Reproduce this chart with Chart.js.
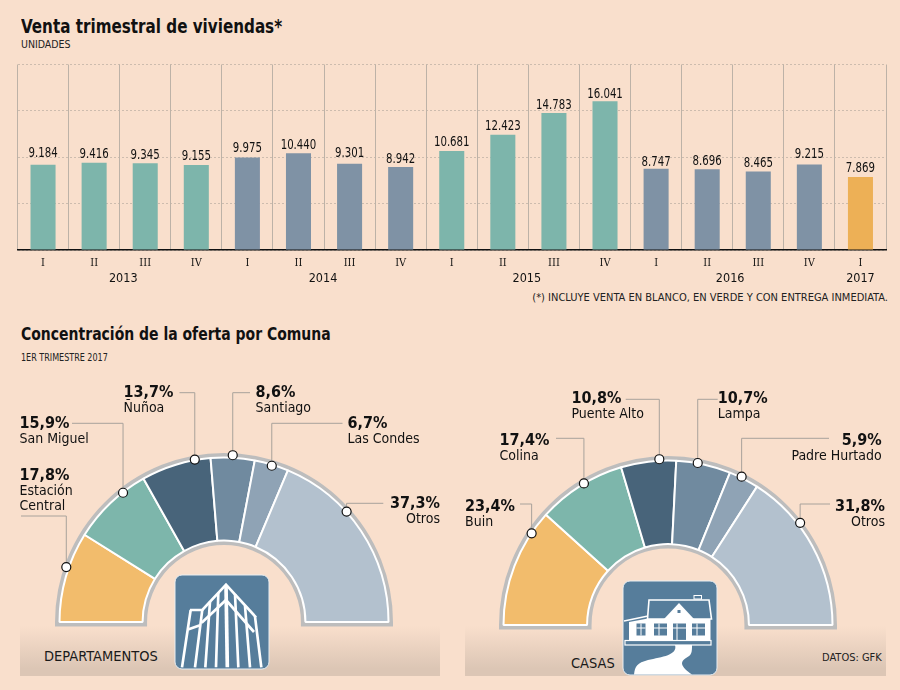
<!DOCTYPE html>
<html lang="es">
<head>
<meta charset="utf-8">
<title>Venta trimestral de viviendas</title>
<script src="https://cdn.jsdelivr.net/npm/chart.js@4"></script>
<style>
  html, body { margin: 0; padding: 0; background: #f9dfcc; }
  #page { position: relative; width: 900px; height: 690px; overflow: hidden; background: #f9dfcc; color: #111;
          font-family: 'DejaVu Sans Condensed', 'DejaVu Sans', sans-serif; }
  #page > * { position: absolute; }
  .title { font-weight: bold; line-height: 24px; white-space: nowrap; transform: scaleX(0.888); transform-origin: left center; }
  .small { font-size: 10.5px; line-height: 13px; white-space: nowrap; color: #222; }
  .band { height: 50px; background: linear-gradient(to bottom, rgba(217,196,180,0), #dcc6b5 85%); }
  .bandtext { font-size: 14.5px; line-height: 18px; white-space: nowrap; color: #1a1a1a; }
</style>
</head>
<body>
<div id="page">
  <div class="title" style="left:21px;top:14px;font-size:19px">Venta trimestral de viviendas*</div>
  <div class="small" style="left:21px;top:38px">UNIDADES</div>
  <div class="small" style="right:12px;top:291px;font-size:11px">(*) INCLUYE VENTA EN BLANCO, EN VERDE Y CON ENTREGA INMEDIATA.</div>
  <div class="title" style="left:21px;top:322px;font-size:17.5px">Concentración de la oferta por Comuna</div>
  <div class="small" style="left:21px;top:351px;transform:scaleX(0.85);transform-origin:left center">1ER TRIMESTRE 2017</div>

  <div class="band" style="left:20px;top:626px;width:420px"></div>
  <div class="band" style="left:465px;top:626px;width:421px"></div>
  <div class="bandtext" style="left:44px;top:647px">DEPARTAMENTOS</div>
  <div class="bandtext" style="left:571px;top:654px">CASAS</div>
  <div class="small" style="left:822px;top:651px;font-size:11px">DATOS: GFK</div>

  <svg style="left:170px;top:570px" width="105" height="105" viewBox="0 0 315 315">
    <rect x="15" y="15" width="282" height="282" rx="21" fill="#567d9b" stroke="#e8eef2" stroke-width="3"/>
    <g fill="none" stroke="#fff" stroke-width="8" stroke-linejoin="miter">
      <path d="M62 120L36 292M97 118L75 292M120 95L106 292M145 68L138 292M195 72L205 292M225 108L240 292M255 140L274 292"/>
      <path stroke-width="11" d="M168 45L172 292"/>
      <path d="M60 120H97L168 44L258 142"/>
      <path d="M95 158L168 90L252 186M56 178L90 166"/>
    </g>
  </svg>
  <svg style="left:618px;top:576px" width="105" height="105" viewBox="0 0 105 105">
    <rect x="5" y="5" width="94" height="94" rx="7" fill="#567d9b" stroke="#e8eef2" stroke-width="1"/>
    <path d="M57 69H74C74 76 74 79 68 82C62 86 62 90 74 98.5H16C17 90 19 87 30 84C44 81 60 79 57 69Z" fill="#fff"/>
    <path d="M31 24H91L93.5 43H29.5Z" fill="#567d9b" stroke="#fff" stroke-width="1.6"/>
    <rect x="76" y="19.5" width="7.5" height="3.5" fill="#567d9b" stroke="#fff" stroke-width="1"/>
    <path d="M46 43L61 27L76 43H92.5V64H11V46L30 42.5V43Z" fill="#fff"/>
    <path d="M6 45L30 40" stroke="#fff" stroke-width="1.5"/>
    <g fill="#567d9b">
      <rect x="59.5" y="34" width="3" height="3"/>
      <rect x="18.5" y="47.5" width="9" height="12"/>
      <rect x="36" y="47.5" width="13" height="12"/>
      <rect x="55" y="47.5" width="13" height="16.5"/>
      <rect x="74" y="47.5" width="13" height="12"/>
    </g>
    <path d="M23 47.5V59.5M18.5 52H27.5M41 47.5V59.5M36 52H49M59 47.5V64M55 52H68M79 47.5V59.5M74 52H87" stroke="#fff" stroke-width="1"/>
    <rect x="7" y="64.5" width="86" height="4.5" fill="#567d9b" stroke="#fff" stroke-width="1.2"/>
  </svg>

  <canvas id="ventas" width="900" height="320" style="left:0;top:0"></canvas>
  <canvas id="deptos" width="450" height="320" style="left:0;top:370px"></canvas>
  <canvas id="casas" width="450" height="320" style="left:450px;top:370px"></canvas>
</div>

<script>
// datos del grafico de barras
const quarters = ['I', 'II', 'III', 'IV', 'I', 'II', 'III', 'IV', 'I', 'II', 'III', 'IV', 'I', 'II', 'III', 'IV', 'I']
const sales = [9184, 9416, 9345, 9155, 9975, 10440, 9301, 8942, 10681, 12423, 14783, 16041, 8747, 8696, 8465, 9215, 7869]
const years = ['2013', '2014', '2015', '2016', '2017']
const yearCenters = [1.57, 5.48, 9.47, 13.45, 16]
const yTicks = [0, 5000, 10000, 15000, 20000]

const GREEN = '#7db5ab'
const SLATE = '#7f92a5'
const ORANGE = '#edb056'
const barColors = [GREEN, GREEN, GREEN, GREEN, SLATE, SLATE, SLATE, SLATE, GREEN, GREEN, GREEN, GREEN, SLATE, SLATE, SLATE, SLATE, ORANGE]
const labelGaps = [8, 5, 4, 5.5, 5, 4, 7, 4.5, 5, 5, 4, 3, 3, 4, 4, 7, 5]

// datos de las comunas
const deptoComunas = ['Estación\nCentral', 'San Miguel', 'Ñuñoa', 'Santiago', 'Las Condes', 'Otros']
const deptoShares = [17.8, 15.9, 13.7, 8.6, 6.7, 37.3]
const casaComunas = ['Buin', 'Colina', 'Puente Alto', 'Lampa', 'Padre Hurtado', 'Otros']
const casaShares = [23.4, 17.4, 10.8, 10.7, 5.9, 31.8]
const sliceColors = ['#f2bc6c', '#7db6ab', '#48647a', '#708a9f', '#8fa3b5', '#b3c1ce']

// llamadas: angulo y radio del punto, codo, fin de linea, texto
const deptoCallouts = [
    { angle: 19.2, r: 167, elbow: 516, end: 21, x: 19.5, y: 480, align: 'left' },
    { angle: 52, r: 164, elbow: 423.3, end: 72, x: 19.5, y: 428, align: 'left' },
    { angle: 79.8, r: 165, elbow: 392.7, end: 179.5, x: 123.5, y: 396.7, align: 'left' },
    { angle: 93, r: 167, elbow: 392.7, end: 250, x: 255.5, y: 396.7, align: 'left' },
    { angle: 107, r: 163.4, elbow: 423.3, end: 342.5, x: 347.5, y: 428, align: 'left' },
    { angle: 138, r: 165, elbow: 503.3, end: 383.3, x: 440, y: 507.7, align: 'right' }
]
const casaCallouts = [
    { angle: 33.9, r: 164.3, elbow: 504, end: 520, x: 465, y: 510.7, align: 'left' },
    { angle: 59.3, r: 164.7, elbow: 438.3, end: 556, x: 499.5, y: 445, align: 'left' },
    { angle: 87, r: 166, elbow: 399.3, end: 625.7, x: 571.5, y: 403.3, align: 'left' },
    { angle: 100.4, r: 164.7, elbow: 399.3, end: 717.7, x: 717.7, y: 403.3, align: 'left' },
    { angle: 116.4, r: 165.6, elbow: 438.3, end: 829, x: 881.7, y: 445, align: 'right' },
    { angle: 142.3, r: 167, elbow: 504, end: 830, x: 885, y: 510.7, align: 'right' }
]

const FONT = "'DejaVu Sans Condensed', 'DejaVu Sans', sans-serif"

// etiquetas de valor encima de cada barra
const barValues = {
    id: 'barValues',
    afterDatasetsDraw(chart) {
        const ctx = chart.ctx
        ctx.font = '13.5px ' + FONT
        ctx.fillStyle = '#111'
        ctx.textAlign = 'center'
        ctx.textBaseline = 'alphabetic'
        chart.getDatasetMeta(0).data.forEach((bar, i) => {
            const text = String(sales[i]).replace(/(\d)(\d{3})$/, '$1.$2')
            ctx.save()
            ctx.translate(bar.x, bar.y - labelGaps[i])
            ctx.scale(0.84, 1)
            ctx.fillText(text, 0, 0)
            ctx.restore()
        })
    }
}

// borde gris del semicirculo, detras de las porciones
const rim = {
    id: 'rim',
    beforeDatasetsDraw(chart) {
        const arc = chart.getDatasetMeta(0).data[0]
        const ctx = chart.ctx
        ctx.save()
        ctx.beginPath()
        ctx.arc(arc.x, arc.y, arc.outerRadius, Math.PI, 2 * Math.PI)
        ctx.arc(arc.x, arc.y, arc.innerRadius, 2 * Math.PI, Math.PI, true)
        ctx.closePath()
        ctx.lineWidth = 9
        ctx.strokeStyle = '#bdbdbd'
        ctx.stroke()
        ctx.restore()
    }
}

// puntos, lineas guia y textos de cada comuna
const callouts = {
    id: 'callouts',
    afterDatasetsDraw(chart, args, opts) {
        const arc = chart.getDatasetMeta(0).data[0]
        const ctx = chart.ctx
        const names = chart.data.labels
        const values = chart.data.datasets[0].data
        opts.items.forEach((c, i) => {
            const a = (180 + c.angle) * Math.PI / 180
            const px = arc.x + c.r * Math.cos(a)
            const py = arc.y + c.r * Math.sin(a)
            ctx.save()
            ctx.strokeStyle = '#a8a29b'
            ctx.lineWidth = 1
            ctx.beginPath()
            ctx.moveTo(px, py)
            ctx.lineTo(px, c.elbow - opts.originY)
            ctx.lineTo(c.end - opts.originX, c.elbow - opts.originY)
            ctx.stroke()
            ctx.beginPath()
            ctx.arc(px, py, 4.5, 0, 2 * Math.PI)
            ctx.fillStyle = '#fff'
            ctx.fill()
            ctx.strokeStyle = '#111'
            ctx.lineWidth = 1.2
            ctx.stroke()
            ctx.textAlign = c.align
            ctx.fillStyle = '#111'
            const tx = c.x - opts.originX
            let ty = c.y - opts.originY
            ctx.font = 'bold 16px ' + FONT
            ctx.fillText(values[i].toFixed(1).replace('.', ',') + '%', tx, ty)
            ctx.font = '14px ' + FONT
            names[i].split('\n').forEach(line => {
                ty += 15
                ctx.fillText(line, tx, ty)
            })
            ctx.restore()
        })
    }
}

new Chart(document.getElementById('ventas'), {
    type: 'bar',
    data: {
        labels: quarters,
        datasets: [{ data: sales, backgroundColor: barColors, barPercentage: 0.49, categoryPercentage: 1 }]
    },
    options: {
        responsive: false,
        animation: false,
        layout: { padding: { left: 17.5, right: 14, top: 64.5, bottom: 36 } },
        plugins: { legend: { display: false }, tooltip: { enabled: false } },
        scales: {
            y: {
                min: 0,
                max: 20000,
                afterBuildTicks: axis => { axis.ticks = yTicks.map(v => ({ value: v })) },
                ticks: { display: false },
                border: { display: false, dash: [2, 2] },
                grid: { color: '#cdbcae', drawTicks: false }
            },
            x: {
                afterFit: axis => { axis.height = 18 },
                ticks: {
                    padding: 7,
                    color: '#111',
                    autoSkip: false,
                    maxRotation: 0,
                    font: { family: "'DejaVu Serif Condensed', " + FONT, size: 11 }
                },
                border: { color: '#111', width: 1.5 },
                grid: { color: '#bdb2a7', drawTicks: false }
            },
            x2: {
                type: 'linear',
                position: 'bottom',
                offset: false,
                min: -0.5,
                max: 16.5,
                afterBuildTicks: axis => { axis.ticks = yearCenters.map(v => ({ value: v })) },
                afterFit: axis => { axis.height = 16 },
                ticks: {
                    padding: 3,
                    color: '#111',
                    autoSkip: false,
                    maxRotation: 0,
                    callback: (value, index) => years[index],
                    font: { family: FONT, size: 12.5 }
                },
                border: { display: false },
                grid: { display: false, drawTicks: false, offset: false }
            }
        }
    },
    plugins: [barValues]
})

function semicircle(id, names, shares, items, padding, cutout, originX) {
    new Chart(document.getElementById(id), {
        type: 'doughnut',
        data: {
            labels: names,
            datasets: [{ data: shares, backgroundColor: sliceColors, borderColor: '#fff', borderWidth: 2 }]
        },
        options: {
            responsive: false,
            animation: false,
            rotation: -90,
            circumference: 180,
            cutout: cutout,
            layout: { padding: padding },
            plugins: {
                legend: { display: false },
                tooltip: { enabled: false },
                callouts: { items: items, originX: originX, originY: 370 }
            }
        },
        plugins: [rim, callouts]
    })
}

semicircle('deptos', deptoComunas, deptoShares, deptoCallouts, { left: 58.5, right: 60.5, top: 86.5, bottom: 67 }, '49.5%', 0)
semicircle('casas', casaComunas, casaShares, casaCallouts, { left: 52.5, right: 66.5, top: 89.5, bottom: 64 }, '49.2%', 450)
</script>
</body>
</html>
